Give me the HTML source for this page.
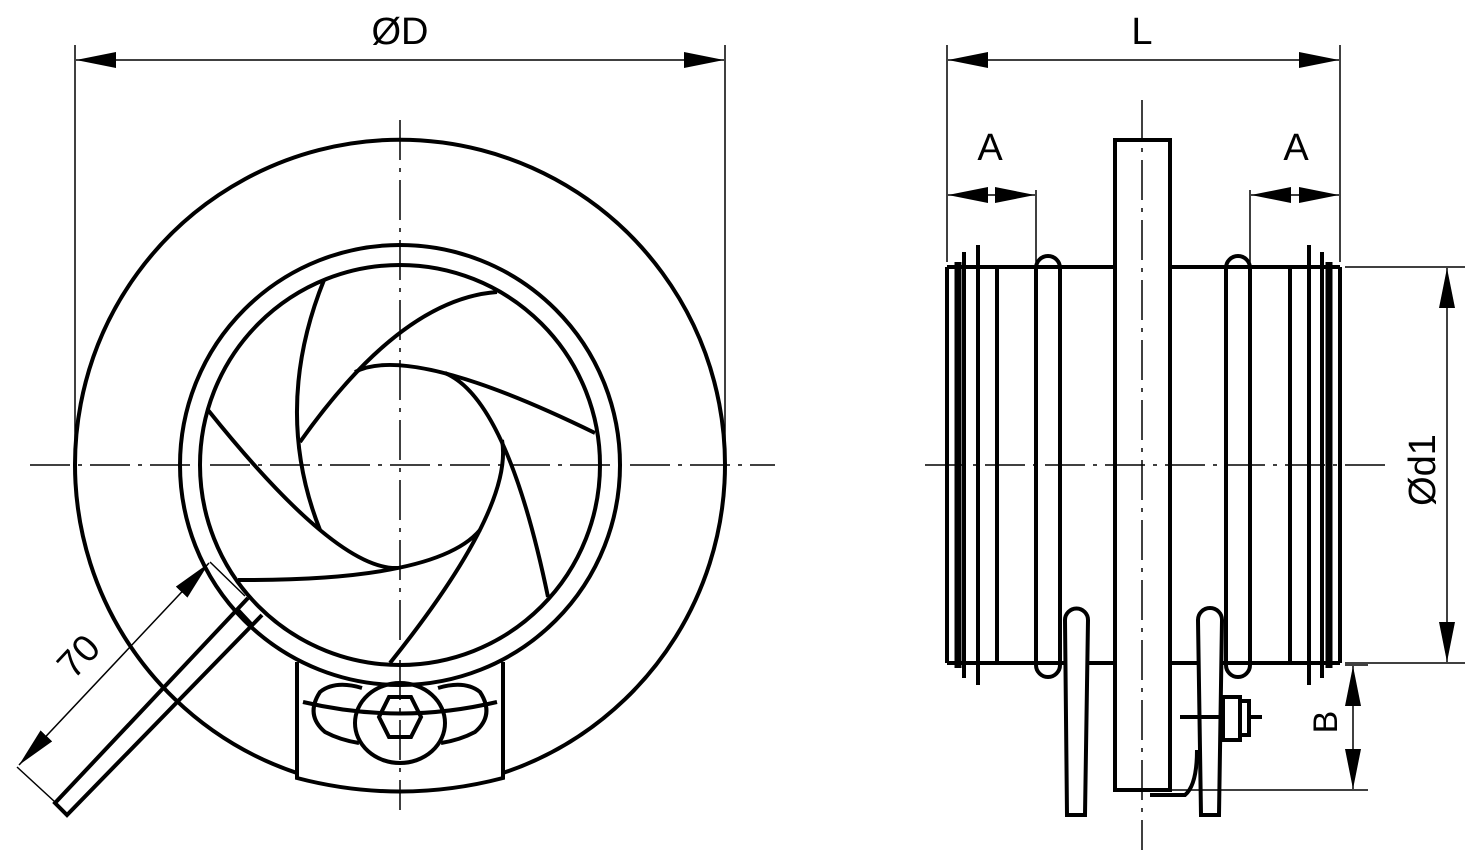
<!DOCTYPE html>
<html><head><meta charset="utf-8"><style>html,body{margin:0;padding:0;background:#fff}svg{display:block}</style></head><body>
<svg width="1476" height="857" viewBox="0 0 1476 857" xmlns="http://www.w3.org/2000/svg" font-family="Liberation Sans, sans-serif">
<defs>
<marker id="ar" viewBox="0 0 40 16" refX="40" refY="8" markerWidth="40" markerHeight="16" markerUnits="userSpaceOnUse" orient="auto-start-reverse"><path d="M0,0 L40,8 L0,16 Z" fill="#000"/></marker>
</defs>
<g fill="none" stroke="#000">
<!-- left view -->
<g stroke-width="4">
<path d="M297,773 A325,325 0 1 1 503,773"/>
<circle cx="400" cy="465" r="220" fill="#fff"/>
<circle cx="400" cy="465" r="200"/>
<path d="M324,280 Q272,409 320,530"/>
<path d="M497,292 Q401,299 300,442"/>
<path d="M595,433 Q411,343 355,372"/>
<path d="M548,597 Q507,399 445,373"/>
<path d="M390,663 Q514,508 502,440"/>
<path d="M238,580 Q437,581 480,530"/>
<path d="M208,410 Q337,571 398,568"/>
<!-- bracket -->
<path d="M297,662 L297,778 Q400,805 503,778 L503,662"/>
<ellipse cx="400" cy="723" rx="45" ry="40"/>
<path d="M362,688 Q335,680 320,692 Q305,715 325,732 Q340,740 359,743"/>
<path d="M438,688 Q465,680 480,692 Q495,715 475,732 Q460,740 441,743"/>
<polygon points="389,697 411,697 421,717 411,737 389,737 379,717"/>
<path d="M303,702 Q400,725 497,702"/>
<!-- handle -->
<path d="M248,598 L55,803 L67,815 L262,615"/>
<line x1="238" y1="610" x2="252" y2="625"/>
</g>
<g stroke-width="1.5">
<line x1="75" y1="45" x2="75" y2="465"/>
<line x1="725" y1="45" x2="725" y2="465"/>
<line x1="76" y1="60" x2="724" y2="60" marker-start="url(#ar)" marker-end="url(#ar)"/>
<line x1="17" y1="767" x2="55" y2="802"/>
<line x1="210" y1="562" x2="245" y2="596"/>
<line x1="19" y1="765" x2="209" y2="563" marker-start="url(#ar)" marker-end="url(#ar)"/>
</g>
<!-- right view -->
<g stroke-width="4">
<line x1="947" y1="267" x2="1340" y2="267"/>
<line x1="947" y1="663" x2="1340" y2="663"/>
<line x1="947" y1="267" x2="947" y2="663"/>
<line x1="1340" y1="267" x2="1340" y2="663"/>
<line x1="958" y1="262" x2="958" y2="668" stroke-width="7"/>
<line x1="964" y1="252" x2="964" y2="678"/>
<line x1="978" y1="245" x2="978" y2="685"/>
<line x1="997" y1="265" x2="997" y2="665"/>
<line x1="1329" y1="262" x2="1329" y2="668" stroke-width="7"/>
<line x1="1322" y1="252" x2="1322" y2="678"/>
<line x1="1309" y1="245" x2="1309" y2="685"/>
<line x1="1290" y1="265" x2="1290" y2="665"/>
<path d="M1036,665 L1036,268 A12,12 0 0 1 1060,268 L1060,665 A12,12 0 0 1 1036,665"/>
<path d="M1226,665 L1226,268 A12,12 0 0 1 1250,268 L1250,665 A12,12 0 0 1 1226,665"/>
<rect x="1115" y="140" width="55" height="650" fill="#fff"/>
<path d="M1065,620 A11.5,11.5 0 0 1 1088,620 L1085,815 L1067,815 Z" fill="#fff"/>
<path d="M1198,620 A12,12 0 0 1 1222,620 L1219,815 L1201,815 Z" fill="#fff"/>
<line x1="1180" y1="717" x2="1262" y2="717"/>
<rect x="1223" y="697" width="17" height="43" fill="#fff"/>
<rect x="1240" y="701" width="9" height="34" fill="#fff"/>
<path d="M1150,795 L1185,795 Q1197,785 1197,750"/>
</g>
<g stroke-width="1.5">
<line x1="947" y1="45" x2="947" y2="262"/>
<line x1="1340" y1="45" x2="1340" y2="262"/>
<line x1="948" y1="60" x2="1339" y2="60" marker-start="url(#ar)" marker-end="url(#ar)"/>
<line x1="1036" y1="190" x2="1036" y2="262"/>
<line x1="1250" y1="190" x2="1250" y2="262"/>
<line x1="992" y1="195" x2="948" y2="195" marker-end="url(#ar)"/>
<line x1="992" y1="195" x2="1035" y2="195" marker-end="url(#ar)"/>
<line x1="1295" y1="195" x2="1251" y2="195" marker-end="url(#ar)"/>
<line x1="1295" y1="195" x2="1339" y2="195" marker-end="url(#ar)"/>
<line x1="1345" y1="267" x2="1465" y2="267"/>
<line x1="1345" y1="663" x2="1465" y2="663"/>
<line x1="1447" y1="268" x2="1447" y2="662" marker-start="url(#ar)" marker-end="url(#ar)"/>
<line x1="1345" y1="665" x2="1368" y2="665"/>
<line x1="1172" y1="790" x2="1368" y2="790"/>
<line x1="1353" y1="666" x2="1353" y2="789" marker-start="url(#ar)" marker-end="url(#ar)"/>
</g>
<!-- centerlines -->
<g stroke-width="1.5" stroke-dasharray="40,8,4,8">
<line x1="30" y1="465" x2="775" y2="465"/>
<line x1="400" y1="120" x2="400" y2="810"/>
<line x1="925" y1="465" x2="1390" y2="465"/>
<line x1="1142" y1="100" x2="1142" y2="850"/>
</g>
</g>
<g font-size="38" fill="#000" text-anchor="middle">
<text x="400" y="44">ØD</text>
<text x="1142" y="44">L</text>
<text x="990" y="160">A</text>
<text x="1296" y="160">A</text>
<text transform="translate(1435,470) rotate(-90)">Ød1</text>
<text transform="translate(1337,722) rotate(-90)" font-size="34">B</text>
<text transform="translate(88,665) rotate(-47)">70</text>
</g>
</svg>
</body></html>
